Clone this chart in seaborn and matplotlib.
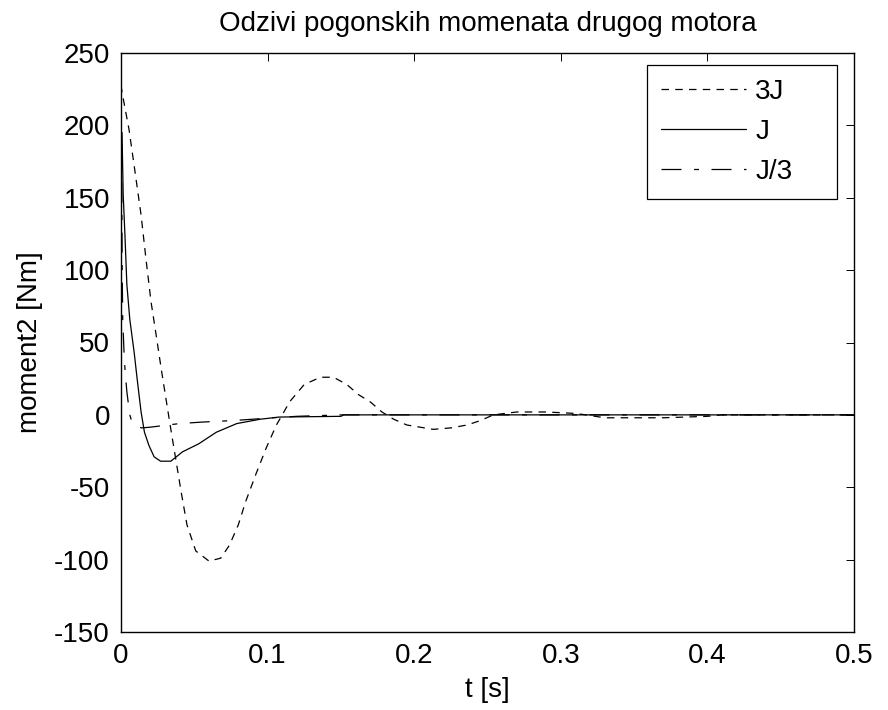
import pandas as pd
import matplotlib
matplotlib.use("Agg")
import matplotlib.pyplot as plt
import seaborn as sns

# reads from the reference picture
t_3J = [0, 0.0007, 0.0055, 0.009, 0.0137, 0.017, 0.0205, 0.024, 0.0274, 0.031,
        0.034, 0.041, 0.045, 0.051, 0.060, 0.068, 0.074, 0.080, 0.085, 0.092,
        0.099, 0.106, 0.110, 0.115, 0.120, 0.125, 0.136, 0.145, 0.154, 0.162,
        0.170, 0.178, 0.186, 0.195, 0.213, 0.225, 0.236, 0.245, 0.254, 0.27,
        0.29, 0.31, 0.317, 0.33, 0.37, 0.40, 0.41, 0.5]
m_3J = [228, 223, 197, 172, 138, 108, 78, 55, 32, 9,
        -10, -53, -76, -94, -101, -99, -90, -76, -60, -41,
        -23, -7, 0, 9, 15, 21, 26, 26, 21, 14,
        9, 2, -3, -7, -10, -9, -7, -4, 0, 2,
        2, 1, 0, -2, -2, -1, 0, 0]

t_J = [0, 0.0007, 0.0015, 0.0027, 0.004, 0.006, 0.009, 0.011, 0.0137, 0.016,
       0.019, 0.0226, 0.027, 0.034, 0.042, 0.053, 0.065, 0.079, 0.095, 0.108,
       0.150, 0.152, 0.5]
m_J = [195, 195, 152, 124, 90, 66, 43, 25, 2, -12,
       -21, -29, -32, -32, -25.5, -20, -12, -6, -3, -1.5,
       -1, 0, 0]

t_J3 = [0, 0.0005, 0.0008, 0.0012, 0.002, 0.0028, 0.004, 0.006, 0.0075, 0.011,
        0.014, 0.02, 0.028, 0.04, 0.055, 0.075, 0.09, 0.103, 0.12, 0.15, 0.5]
m_J3 = [195, 160, 100, 65, 45, 30, 16, 0, -5, -8,
        -9, -8.5, -7.5, -6, -5, -4, -3, -2, -1, 0, 0]

labels = ['3J', 'J', 'J/3']

sns.set_style('white')
plt.rcParams['font.family'] = ['Liberation Sans', 'DejaVu Sans']
plt.rcParams['axes.unicode_minus'] = False
plt.rcParams['text.color'] = 'black'
plt.rcParams['axes.labelcolor'] = 'black'
fs = 20

fig = plt.figure(figsize=(8.88, 7.10), dpi=100)
ax = fig.add_axes([121 / 888, 1 - 632 / 710, 733 / 888, 579 / 710])

series = [(t_3J, m_3J, (0, (6, 5))),
          (t_J, m_J, '-'),
          (t_J3, m_J3, (0, (16, 10, 4, 10)))]
for (t, m, ls), name in zip(series, labels):
    df = pd.DataFrame({'t': t, 'm': m})
    sns.lineplot(data=df, x='t', y='m', ax=ax, color='black', linewidth=0.9,
                 linestyle=ls, label=name, estimator=None, sort=False)

ax.set_xlim(0, 0.5)
ax.set_ylim(-150, 250)
ax.set_xticks([0, 0.1, 0.2, 0.3, 0.4, 0.5])
ax.set_xticklabels(['0', '0.1', '0.2', '0.3', '0.4', '0.5'])
ax.set_yticks(range(-150, 251, 50))
ax.tick_params(direction='in', length=6, width=0.7, top=True, right=True,
               labelsize=fs, pad=8, colors='black')
for sp in ax.spines.values():
    sp.set_color('black')
    sp.set_linewidth(1.0)

ax.set_title('Odzivi pogonskih momenata drugog motora', fontsize=fs, pad=16,
             color='black')
ax.set_xlabel('t [s]', fontsize=fs, labelpad=6)
ax.set_ylabel('moment2 [Nm]', fontsize=fs, labelpad=8)

leg = ax.legend(loc='upper left', mode='expand',
                bbox_to_anchor=(647 / 888, 1 - 194 / 710, 190 / 888, 129 / 710),
                bbox_transform=fig.transFigure, borderaxespad=0,
                fancybox=False, framealpha=1, edgecolor='black',
                handlelength=3.05, handletextpad=0.35, labelspacing=0.5,
                borderpad=0.5, fontsize=fs)
leg.get_frame().set_linewidth(0.9)

fig.savefig('out.png', dpi=100)
